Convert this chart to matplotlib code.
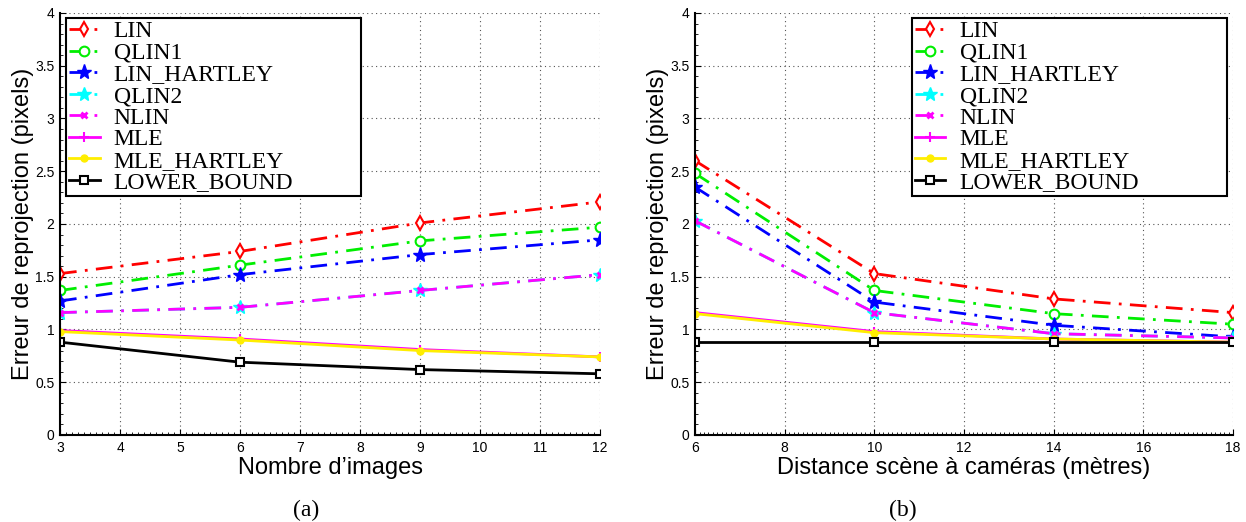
import matplotlib
matplotlib.use('Agg')
import matplotlib.pyplot as plt
import matplotlib.ticker as ticker

# (a) error vs number of images
n_images = [3, 6, 9, 12]
a_lin = [1.53, 1.74, 2.01, 2.21]
a_qlin1 = [1.37, 1.61, 1.84, 1.97]
a_lin_hartley = [1.27, 1.52, 1.71, 1.85]
a_qlin2 = [1.16, 1.21, 1.37, 1.52]
a_nlin = [1.16, 1.21, 1.37, 1.52]
a_mle = [0.99, 0.91, 0.81, 0.74]
a_mle_hartley = [0.98, 0.90, 0.80, 0.74]
a_lower = [0.88, 0.69, 0.62, 0.58]

# (b) error vs scene distance
distance = [6, 10, 14, 18]
b_lin = [2.60, 1.53, 1.29, 1.16]
b_qlin1 = [2.48, 1.37, 1.15, 1.05]
b_lin_hartley = [2.35, 1.26, 1.04, 0.93]
b_qlin2 = [2.03, 1.16, 0.96, 0.92]
b_nlin = [2.03, 1.16, 0.96, 0.92]
b_mle = [1.16, 0.98, 0.91, 0.88]
b_mle_hartley = [1.15, 0.97, 0.91, 0.88]
b_lower = [0.88, 0.88, 0.88, 0.88]

labels = ['LIN', 'QLIN1', 'LIN_HARTLEY', 'QLIN2', 'NLIN', 'MLE', 'MLE_HARTLEY', 'LOWER_BOUND']
styles = [
    dict(color='#ff0000', ls='-.', marker='d', mfc='white', mec='#ff0000', ms=7, mew=1.5),
    dict(color='#00ee00', ls='-.', marker='o', mfc='white', mec='#00ee00', ms=7, mew=1.5),
    dict(color='#0000ff', ls='-.', marker='*', mfc='#0000ff', mec='#0000ff', ms=11),
    dict(color='#00ffff', ls='-.', marker='*', mfc='#00ffff', mec='#00ffff', ms=10),
    dict(color='#ff00ff', ls='-.', marker='x', mfc='#ff00ff', mec='#ff00ff', ms=5, mew=2),
    dict(color='#ff00ff', ls='-', marker='+', mec='#ff00ff', ms=7, mew=1.5),
    dict(color='#ffee00', ls='-', marker='o', mfc='#ffee00', mec='#ffee00', ms=5),
    dict(color='black', ls='-', marker='s', mfc='white', mec='black', ms=6, mew=1.5),
]

sans = ['Liberation Sans Narrow', 'Liberation Sans', 'DejaVu Sans']
serif = ['Liberation Serif', 'DejaVu Serif']

fig = plt.figure(figsize=(12.46, 5.22), dpi=100)
ax_a = fig.add_axes([0.0482, 0.1667, 0.4334, 0.8084])
ax_b = fig.add_axes([0.5578, 0.1667, 0.4318, 0.8084])


def draw(ax, x, series, xticks, xlabel, legend_box):
    for ys, lab, st in zip(series, labels, styles):
        ax.plot(x, ys, label=lab, lw=2, dashes=(6, 3, 1, 3) if st['ls'] == '-.' else (None, None),
                **{k: v for k, v in st.items() if k != 'ls'})
    ax.set_xlim(x[0], x[-1])
    ax.set_ylim(0, 4)
    ax.set_xticks(xticks)
    ax.set_yticks([0, 0.5, 1, 1.5, 2, 2.5, 3, 3.5, 4])
    ax.set_yticklabels(['0', '0.5', '1', '1.5', '2', '2.5', '3', '3.5', '4'])
    ax.xaxis.set_minor_locator(ticker.AutoMinorLocator(10 if xticks[1] - xticks[0] == 1 else 20))
    ax.yaxis.set_minor_locator(ticker.AutoMinorLocator(5))
    ax.tick_params(which='major', direction='in', length=4, labelsize=10, pad=4)
    ax.tick_params(which='minor', direction='in', length=2)
    for lbl in ax.get_xticklabels() + ax.get_yticklabels():
        lbl.set_family(sans)
    ax.grid(True, ls=(0, (1, 3)), color='#555555', lw=0.8)
    ax.spines['top'].set_visible(False)
    ax.spines['right'].set_visible(False)
    ax.spines['left'].set_linewidth(1.5)
    ax.spines['bottom'].set_linewidth(1.5)
    ax.set_xlabel(xlabel, family=sans, fontsize=17, labelpad=2)
    ax.set_ylabel('Erreur de reprojection (pixels)', family=sans, fontsize=17, labelpad=1)
    leg = ax.legend(loc='upper left', bbox_to_anchor=legend_box, mode='expand', borderaxespad=0,
                    prop={'family': serif, 'size': 17}, labelspacing=0.0, handlelength=1.3,
                    handletextpad=0.6, borderpad=0.12, fancybox=False, framealpha=1,
                    edgecolor='black')
    leg.get_frame().set_linewidth(1.5)


draw(ax_a, n_images, [a_lin, a_qlin1, a_lin_hartley, a_qlin2, a_nlin, a_mle, a_mle_hartley, a_lower],
     list(range(3, 13)), 'Nombre d’images', (0.011, 0.5, 0.546, 0.488))
draw(ax_b, distance, [b_lin, b_qlin1, b_lin_hartley, b_qlin2, b_nlin, b_mle, b_mle_hartley, b_lower],
     list(range(6, 19, 2)), 'Distance scène à caméras (mètres)', (0.403, 0.5, 0.586, 0.488))

fig.text(0.2456, 0.022, '(a)', ha='center', va='center', family=serif, fontsize=17)
fig.text(0.7247, 0.022, '(b)', ha='center', va='center', family=serif, fontsize=17)

plt.savefig('out.png', dpi=100)
